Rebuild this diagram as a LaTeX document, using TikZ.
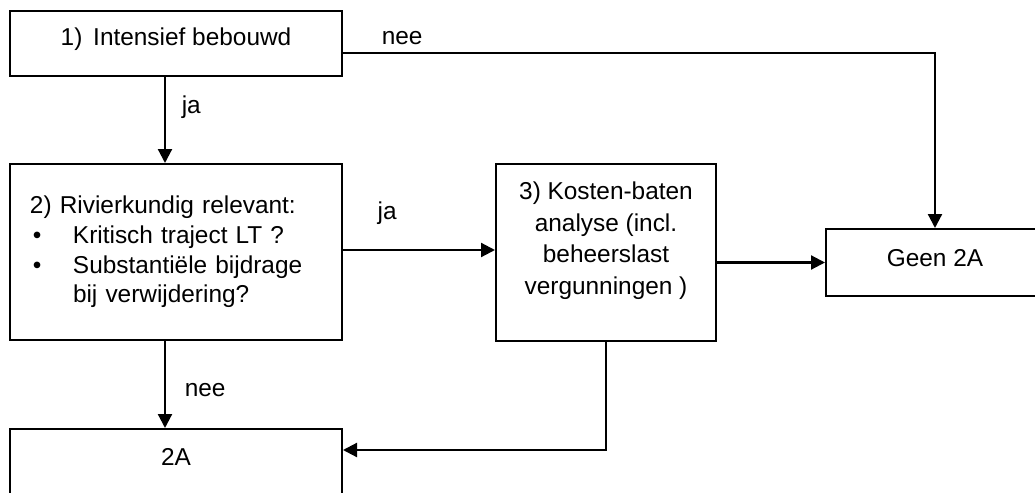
\documentclass[tikz,border=0pt]{standalone}
\usepackage{fontspec}
\setmainfont{Liberation Sans}
\usetikzlibrary{arrows.meta}
\tikzset{
  fl diagram/.style={x=0.5pt, y=-0.5pt, font=\fontsize{12.2}{14.4}\selectfont,
    text=black, line join=miter},
  fl box/.style={draw=black, fill=white, line width=1pt, inner sep=4pt},
  fl arrow/.style={-{Triangle[length=7pt,width=7pt]}, draw=black, line width=1.1pt},
  fl label/.style={font=\fontsize{12.2}{14.4}\selectfont, text=black}
}

\begin{document}
\begin{tikzpicture}[fl diagram]
\useasboundingbox (0,0) rectangle (1035,493);
\clip (0,0) rectangle (1035,493);
% beslisboom
\node (intensief) [fl box, minimum width=166pt, minimum height=32.5pt,
  label={[fl label, yshift=2pt]center:1)\,\ Intensief bebouwd}] at (176,43.5) {};
\node (rivier) [fl box, minimum width=166pt, minimum height=88pt, align=left,
  text width=146pt, inner xsep=10pt, font=\fontsize{12.2}{14.8}\selectfont] at (176,252)
  {2) Rivierkundig relevant:\\
   \makebox[21.5pt][l]{\hspace{1.5pt}\textbullet}Kritisch traject LT ?\\
   \makebox[21.5pt][l]{\hspace{1.5pt}\textbullet}Substantiële bijdrage\\
   \hspace*{21.5pt}bij verwijdering?};
\node (kosten) [fl box, minimum width=110pt, minimum height=88.5pt,
  label={[fl label, align=center, font=\fontsize{12.2}{15.8}\selectfont, yshift=6pt]center:3) Kosten-baten\\analyse (incl.\\beheerslast\\vergunningen )}]
  at (606,252.5) {};
\node (geen) [fl box, minimum width=109pt, minimum height=33.5pt,
  label={[fl label, yshift=2pt]center:Geen 2A}] at (935,262.5) {};
\node (tweeA) [fl box, minimum width=166pt, minimum height=40pt,
  label={[fl label, yshift=6pt]center:2A}] at (176,469) {};
% verbindingen
\draw[fl arrow] ([xshift=-5.5pt]intensief.south) -- node[fl label, pos=.35, right=4.5pt] {ja}
  ([xshift=-5.5pt]rivier.north);
\draw[fl arrow] ([yshift=-4.75pt]intensief.east) -| node[fl label, pos=.05, above=0pt] {nee}
  (geen.north);
\draw[fl arrow] ([yshift=1pt]rivier.east) -- node[fl label, pos=.29, above=9pt] {ja}
  ([yshift=1pt]rivier.east -| kosten.west);
\draw[fl arrow] (kosten.east |- geen.west) -- (geen.west);
\draw[fl arrow] ([xshift=-5.5pt]rivier.south) -- node[fl label, pos=.56, right=6pt] {nee}
  ([xshift=-5.5pt]tweeA.north);
\draw[fl arrow] (kosten.south) |- ([yshift=9.5pt]tweeA.east);
\end{tikzpicture}
\end{document}
